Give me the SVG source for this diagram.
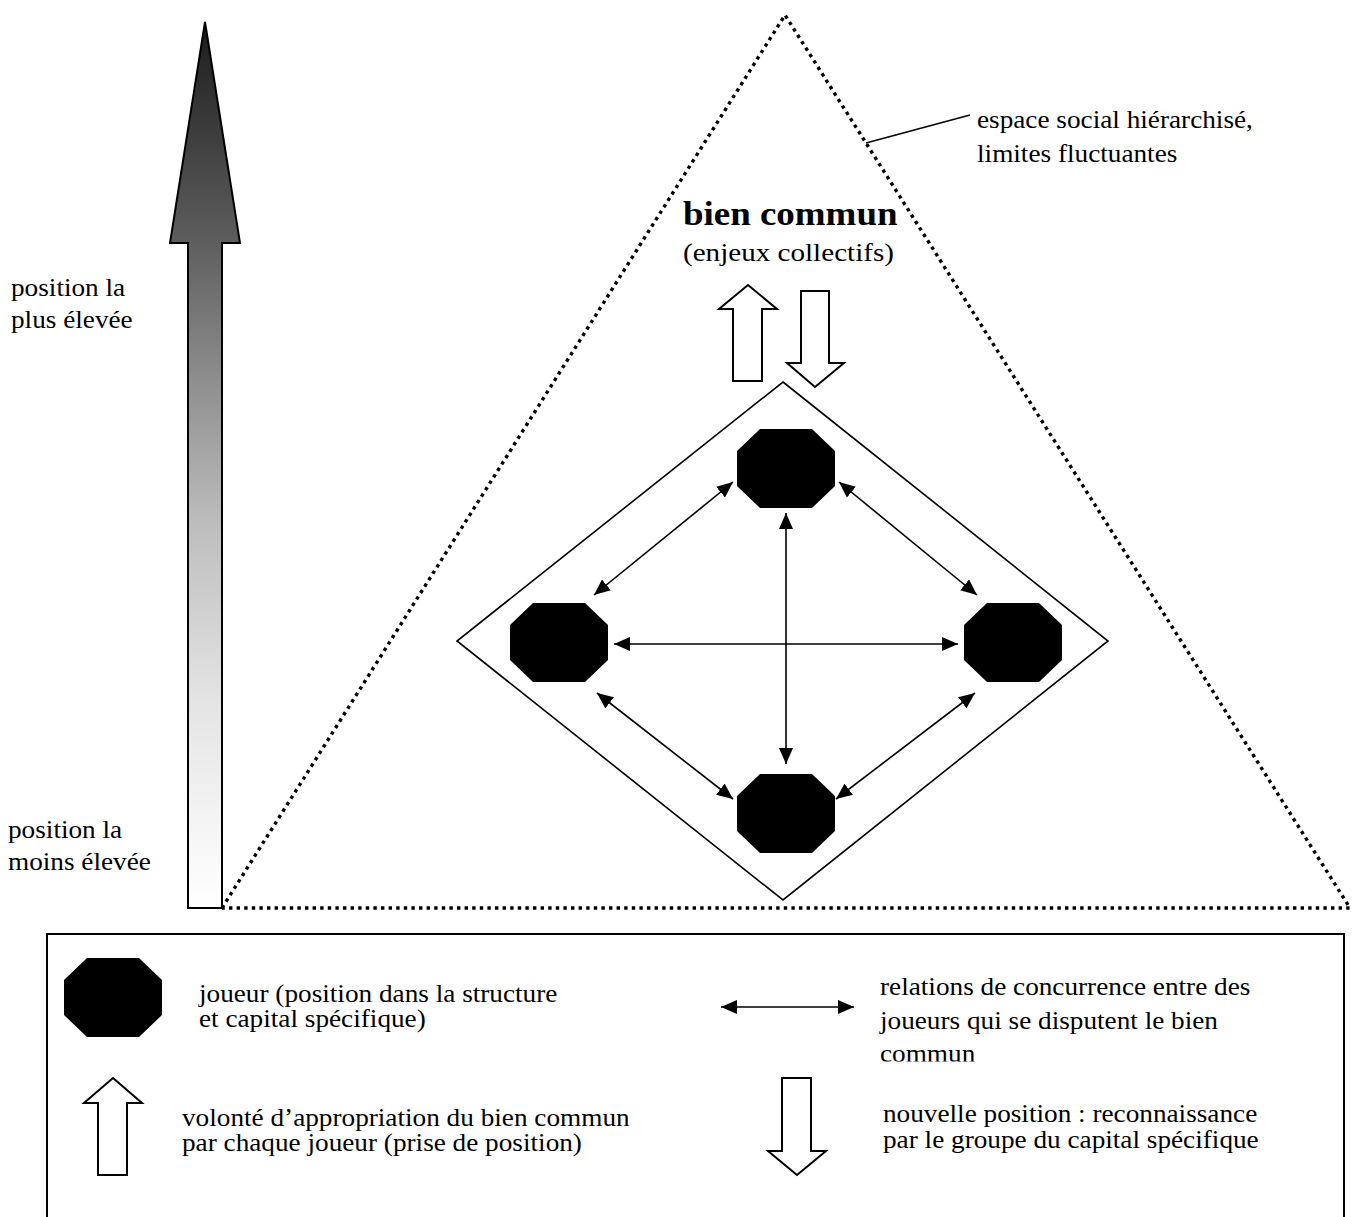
<svg xmlns="http://www.w3.org/2000/svg" xmlns:xlink="http://www.w3.org/1999/xlink" width="1355" height="1217" viewBox="0 0 1355 1217">
<style>
  .t { font-family: "Liberation Serif", "Times New Roman", serif; font-size: 25px; fill: #000; }
  .e { font-family: "Liberation Serif", "Times New Roman", serif; font-size: 26px; fill: #000; }
  .b { font-family: "Liberation Serif", "Times New Roman", serif; font-size: 33px; font-weight: bold; fill: #000; }
  .blk { fill: #fff; stroke: #000; stroke-width: 2; stroke-linejoin: miter; }
  .rel { stroke: #000; stroke-width: 1.6; fill: none; marker-start: url(#ah); marker-end: url(#ah); }
  .dot { fill: none; stroke: #000; stroke-width: 3.4; stroke-dasharray: 3.4 4.2; }
</style>
<defs>
  <linearGradient id="grad" gradientUnits="userSpaceOnUse" x1="0" y1="22" x2="0" y2="908">
    <stop offset="0" stop-color="#1c1c1c"/>
    <stop offset="0.249" stop-color="#5e5e5e"/>
    <stop offset="0.404" stop-color="#8e8e8e"/>
    <stop offset="0.562" stop-color="#bcbcbc"/>
    <stop offset="0.765" stop-color="#e4e4e4"/>
    <stop offset="1" stop-color="#ffffff"/>
  </linearGradient>
  <marker id="ah" viewBox="0 0 16 14" refX="16" refY="7" markerWidth="16" markerHeight="14" markerUnits="userSpaceOnUse" orient="auto-start-reverse">
    <path d="M0,0 L16,7 L0,14 z" fill="#000"/>
  </marker>
  <polygon id="oct" points="23,0 75,0 98,22 98,57 75,79 23,79 0,57 0,22" fill="#000"/>
  <clipPath id="clipCommun"><rect x="860" y="1030" width="200" height="31.5"/></clipPath>
</defs>

<g id="scale-arrow">
  <polygon points="205,22 240,243 222,243 222,908 188,908 188,243 170,243" fill="url(#grad)" stroke="#000" stroke-width="2"/>
  <text class="t" transform="translate(11 296) scale(1.09 1)">position la</text>
  <text class="t" transform="translate(11 328) scale(1.09 1)">plus élevée</text>
  <text class="t" transform="translate(8 838) scale(1.09 1)">position la</text>
  <text class="t" transform="translate(8 870) scale(1.09 1)">moins élevée</text>
</g>

<g id="social-space">
  <polyline class="dot" points="222,908 785,15 1350,908 222,908"/>
  <line x1="866" y1="143" x2="970" y2="115" stroke="#000" stroke-width="1.6"/>
  <text class="t" transform="translate(977 128) scale(1.09 1)">espace social hiérarchisé,</text>
  <text class="t" transform="translate(977 162) scale(1.09 1)">limites fluctuantes</text>
</g>

<g id="bien-commun">
  <text class="b" transform="translate(683 225) scale(1.12 1)">bien commun</text>
  <text class="e" transform="translate(683 261) scale(1.12 1)">(enjeux collectifs)</text>
</g>

<g id="appropriation-arrow">
  <polygon class="blk" points="748,285 777,309 762,309 762,381 733,381 733,309 719,309"/>
</g>
<g id="recognition-arrow">
  <polygon class="blk" points="801,291 829,291 829,363 844,363 815,387 787,363 801,363"/>
</g>

<g id="field">
  <polygon points="783,382 1108,641 783,900 457,641" fill="none" stroke="#000" stroke-width="1.6"/>
</g>

<g id="player-top"><use xlink:href="#oct" x="737" y="429"/></g>
<g id="player-left"><use xlink:href="#oct" x="510" y="603"/></g>
<g id="player-right"><use xlink:href="#oct" x="964" y="603"/></g>
<g id="player-bottom"><use xlink:href="#oct" x="737" y="774"/></g>

<g id="connectors">
  <line class="rel" x1="786" y1="513" x2="786" y2="764"/>
  <line class="rel" x1="614" y1="644" x2="958" y2="644"/>
  <line class="rel" x1="594" y1="595" x2="733" y2="482"/>
  <line class="rel" x1="839" y1="482" x2="977" y2="595"/>
  <line class="rel" x1="597" y1="693" x2="733" y2="799"/>
  <line class="rel" x1="975" y1="693" x2="836" y2="799"/>
</g>

<g id="legend">
  <polyline points="47,1217 47,934 1344,934 1344,1217" fill="none" stroke="#000" stroke-width="2"/>
  <use xlink:href="#oct" x="64" y="958"/>
  <text class="t" transform="translate(199 1002) scale(1.09 1)">joueur (position dans la structure</text>
  <text class="t" transform="translate(199 1027) scale(1.09 1)">et capital spécifique)</text>
  <line class="rel" x1="721" y1="1007" x2="854" y2="1007"/>
  <text class="t" transform="translate(880 995) scale(1.09 1)">relations de concurrence entre des</text>
  <text class="t" transform="translate(880 1029) scale(1.09 1)">joueurs qui se disputent le bien</text>
  <g clip-path="url(#clipCommun)">
    <text class="t" transform="translate(880 1062) scale(1.09 1)">commun</text>
  </g>
  <polygon class="blk" points="113,1078 142,1103 127,1103 127,1175 98,1175 98,1103 84,1103"/>
  <text class="t" transform="translate(182 1126) scale(1.09 1)">volonté d’appropriation du bien commun</text>
  <text class="t" transform="translate(182 1151) scale(1.09 1)">par chaque joueur (prise de position)</text>
  <polygon class="blk" points="782,1078 811,1078 811,1151 826,1151 797,1175 768,1151 782,1151"/>
  <text class="t" transform="translate(883 1122) scale(1.09 1)">nouvelle position : reconnaissance</text>
  <text class="t" transform="translate(883 1148) scale(1.09 1)">par le groupe du capital spécifique</text>
</g>
</svg>
